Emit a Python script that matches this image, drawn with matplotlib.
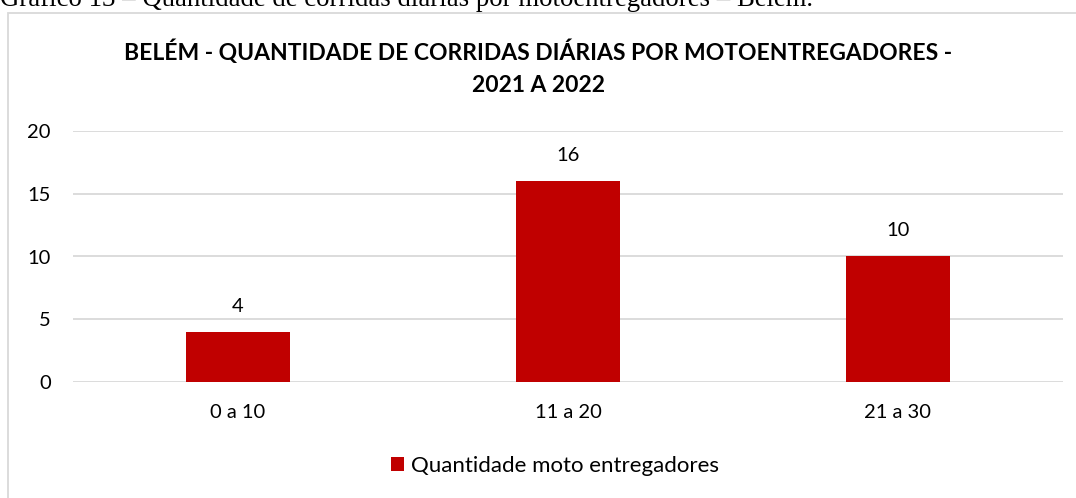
import matplotlib.pyplot as plt
from matplotlib.patches import Rectangle

categories = ['0 a 10', '11 a 20', '21 a 30']
values = [4, 16, 10]
series_name = 'Quantidade moto entregadores'
title = 'BELÉM - QUANTIDADE DE CORRIDAS DIÁRIAS POR MOTOENTREGADORES -\n2021 A 2022'
caption = 'Gráfico 13 – Quantidade de corridas diárias por motoentregadores – Belém.'

W, H = 1076, 498
fig = plt.figure(figsize=(W / 100, H / 100), dpi=100)
plt.rcParams['font.family'] = ['Lato', 'DejaVu Sans']

# caption cut off at the top of the image, as in the source page
fig.text(0.0, 1 - 6 / H, caption, fontsize=19.3, family='Liberation Serif',
         ha='left', va='baseline')

# chart frame
fig.patches.append(Rectangle((8 / W, -0.05), 1.2, 1 - 13 / H + 0.05,
                             transform=fig.transFigure, fill=False,
                             edgecolor='#d9d9d9', linewidth=1.3))

ax = fig.add_axes([73 / W, 1 - 382 / H, 990 / W, (382 - 131) / H])
x = range(len(categories))
bars = ax.bar(x, values, width=0.315, color='#c00000', label=series_name, zorder=3)
for b, v in zip(bars, values):
    ax.annotate(str(v), (b.get_x() + b.get_width() / 2, v), xytext=(0, 18.5),
                textcoords='offset points', ha='center', va='center', fontsize=14.5)

ax.set_xlim(-0.5, 2.5)
ax.set_ylim(0, 20)
ax.set_yticks([0, 5, 10, 15, 20])
ax.set_xticks(list(x))
ax.set_xticklabels(categories)
ax.tick_params(axis='both', length=0, labelsize=14.5, colors='black')
ax.tick_params(axis='y', pad=16)
ax.tick_params(axis='x', pad=16)
ax.grid(axis='y', color='#d9d9d9', linewidth=1.3, zorder=0)
for s in ax.spines.values():
    s.set_visible(False)

fig.text(0.5, 1 - 68 / H, title, ha='center', va='center', fontsize=16.5,
         fontweight='bold', linespacing=1.63)

ax.legend(loc='center', bbox_to_anchor=(0.487, (382 - 466) / (382 - 131)),
          frameon=False, fontsize=16, handlelength=0.6, handleheight=0.6,
          handletextpad=0.3)

fig.savefig('out.png', dpi=100)
